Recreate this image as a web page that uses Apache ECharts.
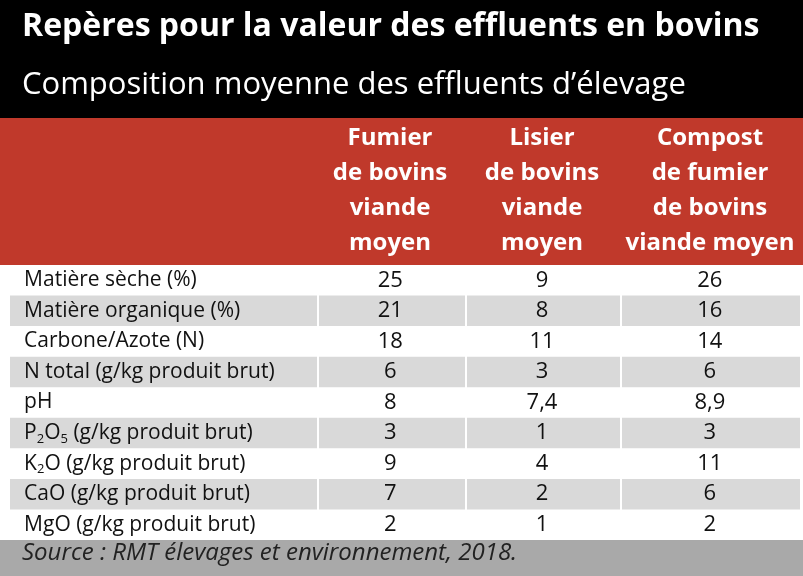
<!DOCTYPE html>
<html><head><meta charset="utf-8">
<script src="https://cdn.jsdelivr.net/npm/echarts@6/dist/echarts.min.js"></script>
<style>html,body{margin:0;padding:0;background:#fff}#c{width:803px;height:576px}</style>
</head><body><div id="c"></div>
<script>
const title = "Repères pour la valeur des effluents en bovins";
const subtitle = "Composition moyenne des effluents d’élevage";
const columns = ["Fumier\nde bovins\nviande\nmoyen", "Lisier\nde bovins\nviande\nmoyen", "Compost\nde fumier\nde bovins\nviande moyen"];
const rows = ["Matière sèche (%)", "Matière organique (%)", "Carbone/Azote (N)", "N total (g/kg produit brut)", "pH", "P{s|2}O{s|5} (g/kg produit brut)", "K{s|2}O (g/kg produit brut)", "CaO (g/kg produit brut)", "MgO (g/kg produit brut)"];
const fumier = ["25", "21", "18", "6", "8", "3", "9", "7", "2"];
const lisier = ["9", "8", "11", "3", "7,4", "1", "4", "2", "1"];
const compost = ["26", "16", "14", "6", "8,9", "3", "11", "6", "2"];
const source = "Source : RMT élevages et environnement, 2018.";

const FONT = "Open Sans";
const colX = [3, 48.6, 67.5, 88.4];
const chart = echarts.init(document.getElementById('c'));
chart.setOption({
  animation: false,
  graphic: [
    {type:'rect', shape:{x:0,y:0,width:803,height:118}, style:{fill:'#000'}},
    {type:'rect', shape:{x:0,y:118,width:803,height:147}, style:{fill:'#c0392b'}},
    {type:'rect', shape:{x:0,y:540,width:803,height:36}, style:{fill:'#a9a9a9'}},
    {type:'text', left:22, top:11, style:{text:title, fill:'#fff', font:'bold 32px "Open Sans"'}},
    {type:'text', left:22, top:70, style:{text:subtitle, fill:'#fff', font:'31px "Open Sans"'}},
    {type:'text', left:22, top:541, style:{text:source, fill:'#222', font:'italic 24px "Open Sans"'}},
    ...columns.map((t,i)=>({type:'text', x:[390,542,710][i], y:121, style:{text:t, fill:'#fff', font:'bold 24px "Open Sans"', align:'center', lineHeight:35}}))
  ],
  grid: {left:0, right:0, top:265, bottom:36},
  xAxis: {type:'value', min:0, max:100, show:false},
  yAxis: {type:'category', data:rows, inverse:true, show:false},
  series: [{
    type:'custom',
    data: rows.map((r,i)=>i),
    renderItem: (params, api) => {
      const i = api.value(0);
      const c = api.coord([0, i]);
      const h = api.size([0, 1])[1];
      const ch = [];
      if (i % 2 === 1) {
        const segs = [[10,317],[319,465],[467,620],[622,800]];
        segs.forEach(s=>ch.push({type:'rect', shape:{x:s[0], y:c[1]-h/2, width:s[1]-s[0], height:h}, style:{fill:'#d9d9d9'}}));
      }
      ch.push({type:'text', x:api.coord([colX[0],i])[0], y:c[1], style:{text:rows[i], fill:'#111', font:'21px "Open Sans"', verticalAlign:'middle', rich:{s:{fontSize:13, verticalAlign:'bottom', padding:[12,0,0,0], fontFamily:FONT, fill:'#111'}}}});
      [fumier, lisier, compost].forEach((arr,k)=>{
        ch.push({type:'text', x:api.coord([colX[k+1],i])[0], y:c[1], style:{text:arr[i], fill:'#111', font:'22px "Open Sans"', align:'center', verticalAlign:'middle'}});
      });
      return {type:'group', children:ch};
    },
    encode:{x:0, y:0}
  }]
});
</script></body></html>
